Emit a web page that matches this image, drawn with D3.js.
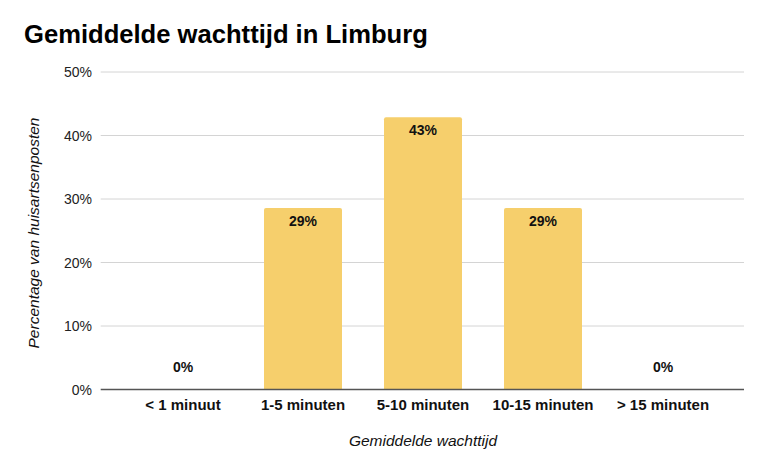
<!DOCTYPE html>
<html>
<head>
<meta charset="utf-8">
<script src="https://cdn.jsdelivr.net/npm/d3@7"></script>
<style>
  html, body { margin: 0; padding: 0; background: #fff; }
  svg { display: block; font-family: "Liberation Sans", Arial, sans-serif; }
</style>
</head>
<body>
<svg id="chart" width="768" height="475"></svg>
<script>
const categories = ["< 1 minuut", "1-5 minuten", "5-10 minuten", "10-15 minuten", "> 15 minuten"];
const values = [0, 28.57, 42.86, 28.57, 0];
const valueLabels = ["0%", "29%", "43%", "29%", "0%"];
const yTicks = [0, 10, 20, 30, 40, 50];

(function () {
const svg = d3.select("#chart");
const plotLeft = 100.7, plotRight = 744, plotTop = 72, plotBottom = 389.5;

const x = d3.scaleBand().domain(categories).range([123, 723]).paddingInner(0.35).paddingOuter(0.175);
const y = d3.scaleLinear().domain([0, 50]).range([plotBottom, plotTop]);

svg.append("text").attr("x", 24).attr("y", 43)
  .attr("font-size", 25.6).attr("font-weight", "bold").attr("fill", "#000")
  .text("Gemiddelde wachttijd in Limburg");

// gridlines
svg.append("g").selectAll("line").data(yTicks.filter(d => d > 0)).join("line")
  .attr("x1", plotLeft).attr("x2", plotRight)
  .attr("y1", d => y(d)).attr("y2", d => y(d))
  .attr("stroke", "#d4d4d4").attr("stroke-width", 1);

// y tick labels
svg.append("g").selectAll("text").data(yTicks).join("text")
  .attr("x", 92).attr("y", d => y(d) + 5)
  .attr("text-anchor", "end").attr("font-size", 14).attr("fill", "#222")
  .text(d => d + "%");

// bars
const bars = categories.map((c, i) => ({ c, v: values[i], l: valueLabels[i] }));
svg.append("g").selectAll("path").data(bars.filter(d => d.v > 0)).join("path")
  .attr("d", d => {
    const x0 = x(d.c), w = x.bandwidth(), y0 = y(d.v), y1 = y(0), r = 2;
    return `M${x0},${y1}V${y0 + r}Q${x0},${y0} ${x0 + r},${y0}H${x0 + w - r}Q${x0 + w},${y0} ${x0 + w},${y0 + r}V${y1}Z`;
  })
  .attr("fill", "#F6CF6C");

// value labels
svg.append("g").selectAll("text").data(bars).join("text")
  .attr("x", d => x(d.c) + x.bandwidth() / 2)
  .attr("y", d => d.v > 0 ? y(d.v) + 18 : y(d.v) - 17.5)
  .attr("text-anchor", "middle").attr("font-size", 14).attr("font-weight", "bold").attr("fill", "#111")
  .text(d => d.l);

// baseline
svg.append("line").attr("x1", plotLeft).attr("x2", plotRight)
  .attr("y1", y(0)).attr("y2", y(0))
  .attr("stroke", "#555").attr("stroke-width", 1.3);

// x labels
svg.append("g").selectAll("text").data(categories).join("text")
  .attr("x", d => x(d) + x.bandwidth() / 2).attr("y", 410)
  .attr("text-anchor", "middle").attr("font-size", 15).attr("font-weight", "bold").attr("fill", "#111")
  .text(d => d);

// axis titles
svg.append("text").attr("x", 423).attr("y", 446)
  .attr("text-anchor", "middle").attr("font-size", 15.5).attr("font-style", "italic").attr("fill", "#111")
  .text("Gemiddelde wachttijd");

svg.append("text").attr("transform", "translate(39,233) rotate(-90)")
  .attr("text-anchor", "middle").attr("font-size", 15.5).attr("font-style", "italic").attr("fill", "#111")
  .text("Percentage van huisartsenposten");
})();
</script>
</body>
</html>
